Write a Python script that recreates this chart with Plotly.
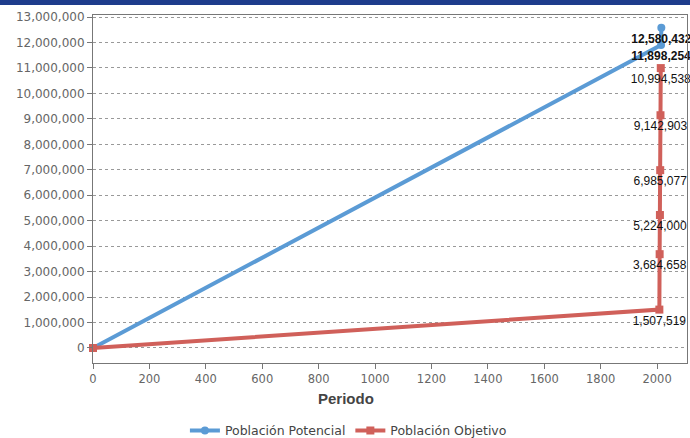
import plotly.graph_objects as go

# Data
periodo_potencial = [0, 2014, 2015]
poblacion_potencial = [0, 11898254, 12580432]

periodo_objetivo = [0, 2008, 2009, 2010, 2011, 2012, 2013]
poblacion_objetivo = [0, 1507519, 3684658, 5224000, 6985077, 9142903, 10994538]

y_ticks = list(range(0, 13000001, 1000000))
x_ticks = list(range(0, 2001, 200))

blue = "#5B9BD5"
red = "#D0605A"

def lbl(v, bold=False):
    s = f"{v:,}"
    return f"<b>{s}</b>" if bold else s

fig = go.Figure()
fig.add_trace(go.Scatter(
    x=periodo_potencial, y=poblacion_potencial, name="Población Potencial",
    mode="lines+markers+text",
    line=dict(color=blue, width=4),
    marker=dict(color=blue, size=8, symbol="circle"),
    text=["" if v == 0 else lbl(v, True) for v in poblacion_potencial],
    textposition="bottom center",
    textfont=dict(family="Liberation Sans", size=12, color="#111"),
    cliponaxis=False,
))
fig.add_trace(go.Scatter(
    x=periodo_objetivo, y=poblacion_objetivo, name="Población Objetivo",
    mode="lines+markers+text",
    line=dict(color=red, width=4),
    marker=dict(color=red, size=8, symbol="square"),
    text=["" if v == 0 else lbl(v) for v in poblacion_objetivo],
    textposition="bottom center",
    textfont=dict(family="Liberation Sans", size=12, color="#111"),
    cliponaxis=False,
))

fig.update_layout(
    width=690, height=438,
    margin=dict(l=93, r=3, t=15, b=75, autoexpand=False),
    paper_bgcolor="white", plot_bgcolor="white",
    font=dict(family="DejaVu Sans", size=12, color="#555"),
    showlegend=True,
    legend=dict(orientation="h", x=0.43, xanchor="center", y=-0.195, yanchor="middle",
                font=dict(family="DejaVu Sans", size=12.5, color="#444"),
                itemwidth=30, tracegroupgap=0),
    shapes=[dict(type="rect", xref="paper", yref="paper",
                 x0=-0.2, x1=1.1, y0=1.029, y1=1.1,
                 fillcolor="#1E3C8C", line=dict(width=0), layer="above")],
    annotations=[dict(text="<b>Periodo</b>", xref="paper", yref="paper",
                      x=0.426, y=-0.1034, xanchor="center", yanchor="middle",
                      showarrow=False,
                      font=dict(family="Liberation Sans", size=15, color="#444"))],
)
fig.update_xaxes(
    range=[0, 2106], tickvals=x_ticks, ticktext=[str(t) for t in x_ticks],
    showgrid=False, zeroline=False, automargin=False,
    showline=True, linecolor="#777", linewidth=1, mirror=True,
    ticks="outside", ticklen=5, tickcolor="#777",
    tickfont=dict(family="DejaVu Sans", size=11.5, color="#666"),
)
fig.update_yaxes(
    range=[-590000, 13080000], tickvals=y_ticks, ticktext=[f"{t:,}" for t in y_ticks],
    showgrid=True, gridcolor="#999", griddash="dot", gridwidth=1,
    zeroline=False, automargin=False,
    showline=True, linecolor="#777", linewidth=1, mirror=True,
    ticks="outside", ticklen=5, tickcolor="#777",
    tickfont=dict(family="DejaVu Sans", size=12, color="#666"),
)

fig.write_html("out.html", config={"displayModeBar": False},
               post_script="document.body.style.margin='0px';document.body.style.overflow='hidden';")
